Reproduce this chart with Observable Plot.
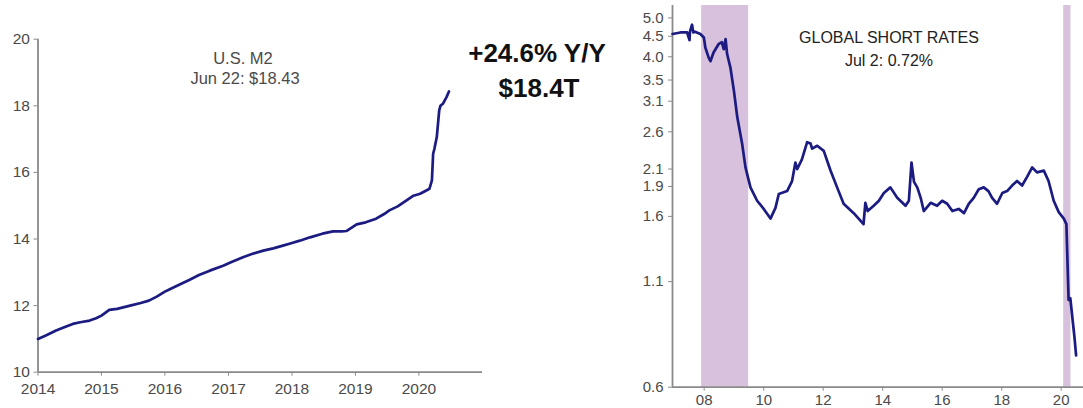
<!DOCTYPE html>
<html><head><meta charset="utf-8">
<script src="https://cdn.jsdelivr.net/npm/d3@7"></script>
<script src="https://cdn.jsdelivr.net/npm/@observablehq/plot@0.6"></script>
<style>
body{margin:0;background:#fff;font-family:"Liberation Sans",Arial,sans-serif;}
#wrap{position:relative;width:1083px;height:408px;overflow:hidden;background:#fff;}
.panel{position:absolute;top:0;}
.lbl{position:absolute;transform:translate(-50%,-50%);white-space:nowrap;text-align:center;line-height:1;}
</style></head><body><div id="wrap"></div>
<script>
// ---- Left panel: U.S. M2 ($ trillions) ----
const m2Dates = ["2014-01-01","2014-02-15","2014-04-15","2014-06-01","2014-07-20","2014-09-01","2014-10-25","2014-12-01",
"2015-01-01","2015-02-15","2015-04-01","2015-06-15","2015-08-15","2015-10-01","2015-11-15",
"2016-01-01","2016-02-01","2016-04-01","2016-05-20","2016-07-15","2016-09-15","2016-12-01",
"2017-01-15","2017-03-25","2017-05-15","2017-07-20","2017-09-15","2017-11-10",
"2018-01-01","2018-02-15","2018-04-15","2018-06-25","2018-08-25","2018-10-15","2018-11-10",
"2019-01-08","2019-03-01","2019-04-30","2019-06-15","2019-07-15","2019-09-01","2019-10-22","2019-12-01",
"2020-01-08","2020-02-10","2020-03-02","2020-03-16","2020-03-23","2020-03-30","2020-04-13","2020-04-27","2020-05-04","2020-05-18","2020-06-08","2020-06-22"];
const m2Values = [11.00,11.10,11.25,11.35,11.45,11.50,11.55,11.62,
11.70,11.87,11.90,12.00,12.08,12.15,12.27,
12.42,12.50,12.65,12.77,12.92,13.05,13.20,
13.30,13.45,13.55,13.65,13.72,13.80,
13.88,13.95,14.05,14.16,14.23,14.23,14.24,
14.44,14.50,14.61,14.75,14.86,14.98,15.16,15.30,
15.36,15.45,15.51,15.76,16.56,16.70,17.06,17.86,18.00,18.06,18.26,18.43];
const m2Years = [2014,2015,2016,2017,2018,2019,2020];
const m2YTicks = [10,12,14,16,18,20];

// ---- Right panel: Global short rates (%) ----
const rateDates = ["2006-12-08","2007-03-15","2007-06-05","2007-07-05","2007-07-10","2007-08-05","2007-08-20","2007-09-10","2007-11-15","2007-12-28",
"2008-01-15","2008-02-25","2008-03-18","2008-04-25","2008-06-25","2008-08-05","2008-08-28","2008-09-20","2008-10-08","2008-11-18",
"2009-01-01","2009-02-10","2009-04-12","2009-05-22","2009-07-22","2009-10-12",
"2010-01-01","2010-03-25","2010-05-25","2010-07-05","2010-10-15","2010-12-15",
"2011-01-25","2011-02-17","2011-04-15","2011-06-18","2011-07-30","2011-08-18","2011-10-20",
"2012-01-08","2012-04-01","2012-06-20","2012-09-08",
"2013-01-10","2013-05-10","2013-06-02","2013-07-01","2013-09-12","2013-11-15",
"2014-01-15","2014-04-05","2014-06-28","2014-10-08","2014-11-18","2014-12-20",
"2015-01-20","2015-03-01","2015-04-12","2015-05-20","2015-08-12","2015-10-30",
"2016-01-01","2016-03-03","2016-05-05","2016-07-22","2016-09-25","2016-11-22",
"2017-01-22","2017-03-25","2017-05-25","2017-07-22","2017-09-05","2017-11-05",
"2018-01-08","2018-03-08","2018-05-08","2018-07-08","2018-09-08","2018-11-10",
"2019-01-10","2019-03-10","2019-06-02","2019-07-30","2019-10-01","2019-12-02",
"2020-02-02","2020-03-05","2020-04-01","2020-04-22","2020-06-12","2020-07-02"];
const rateValues = [4.56,4.60,4.60,4.40,4.62,4.81,4.60,4.62,4.56,4.47,
4.22,3.98,3.90,4.10,4.30,4.35,4.18,4.43,4.07,3.76,
3.28,2.83,2.42,2.12,1.89,1.75,
1.67,1.58,1.68,1.82,1.85,1.96,
2.18,2.10,2.22,2.45,2.43,2.36,2.40,
2.33,2.08,1.89,1.72,
1.63,1.53,1.73,1.65,1.70,1.75,
1.83,1.89,1.78,1.70,1.75,2.18,
1.95,1.89,1.78,1.65,1.73,1.70,
1.75,1.72,1.65,1.67,1.63,1.72,
1.78,1.87,1.89,1.85,1.78,1.72,
1.83,1.85,1.91,1.96,1.91,2.01,
2.12,2.06,2.08,1.96,1.75,1.64,
1.58,1.53,0.99,1.00,0.80,0.72];
const rateYTicks = [0.6,1.1,1.6,1.9,2.1,2.6,3.1,3.5,4.0,4.5,5.0];
const rateXYears = [2008,2010,2012,2014,2016,2018,2020];
const recessionStart = ["2007-12-01","2020-02-01"];
const recessionEnd = ["2009-06-30","2020-04-30"];

const lineColor = "#1b1b82";
const axisColor = "#8a8a8a";
const textColor = "#4a4a4a";
const d = s => new Date(s + "T00:00:00Z");

const m2 = m2Dates.map((t, i) => ({date: d(t), value: m2Values[i]}));
const rates = rateDates.map((t, i) => ({date: d(t), value: rateValues[i]}));
const recessions = recessionStart.map((s, i) => ({x1: d(s), x2: d(recessionEnd[i])}));

const wrap = document.getElementById("wrap");

const m2Domain = [d("2014-01-01"), d("2021-01-01")];
const left = Plot.plot({
  width: 540, height: 408,
  marginLeft: 37.5, marginRight: 58, marginTop: 38.7, marginBottom: 36.3,
  style: {fontFamily: "Liberation Sans, Arial, sans-serif", fontSize: "15.5px", background: "transparent"},
  x: {type: "utc", domain: m2Domain},
  y: {domain: [10, 20]},
  marks: [
    Plot.ruleX([m2Domain[0]], {stroke: axisColor, strokeWidth: 1.8}),
    Plot.ruleY([10], {stroke: axisColor, strokeWidth: 1.8}),
    Plot.axisX({ticks: m2Years.map(y => d(y + "-01-01")), tickFormat: d3.utcFormat("%Y"), tickSize: 4, tickPadding: 7, stroke: axisColor, fill: textColor, fontSize: 15.5, label: null}),
    Plot.axisY({ticks: m2YTicks, tickSize: 4, tickPadding: 4, stroke: axisColor, fill: textColor, fontSize: 15.5, label: null}),
    Plot.line(m2, {x: "date", y: "value", stroke: lineColor, strokeWidth: 2.7, strokeLinejoin: "round", strokeLinecap: "round"})
  ]
});
left.classList.add("panel");
left.style.left = "0px";
wrap.appendChild(left);

const rateDomain = [d("2006-12-08"), d("2020-10-01")];
const right = Plot.plot({
  width: 453, height: 408,
  marginLeft: 42, marginRight: 0, marginTop: 5, marginBottom: 21.3,
  style: {fontFamily: "Liberation Sans, Arial, sans-serif", fontSize: "15px", background: "transparent"},
  x: {type: "utc", domain: rateDomain},
  y: {type: "log", domain: [0.6, 5.37]},
  marks: [
    Plot.rect(recessions, {x1: "x1", x2: "x2", y1: 0.6, y2: 5.37, fill: "#d8c1dc"}),
    Plot.ruleX([rateDomain[0]], {stroke: axisColor, strokeWidth: 1.8}),
    Plot.ruleY([0.6], {stroke: axisColor, strokeWidth: 1.8}),
    Plot.axisX({ticks: rateXYears.map(y => d(y + "-01-01")), tickFormat: d3.utcFormat("%y"), tickSize: 4, tickPadding: 3, stroke: axisColor, fill: textColor, fontSize: 15, label: null}),
    Plot.axisY({ticks: rateYTicks, tickFormat: d3.format(".1f"), tickSize: 4, tickPadding: 5, stroke: axisColor, fill: textColor, fontSize: 15, label: null}),
    Plot.line(rates, {x: "date", y: "value", stroke: lineColor, strokeWidth: 2.7, strokeLinejoin: "round", strokeLinecap: "round"})
  ]
});
right.classList.add("panel");
right.style.left = "630px";
wrap.appendChild(right);

function label(text, x, y, css) {
  const el = document.createElement("div");
  el.className = "lbl";
  el.textContent = text;
  el.style.left = x + "px";
  el.style.top = y + "px";
  Object.assign(el.style, css);
  wrap.appendChild(el);
}
label("U.S. M2", 243, 58, {fontSize: "16.5px", color: textColor});
label("Jun 22: $18.43", 245, 78, {fontSize: "16.5px", color: textColor});
label("+24.6% Y/Y", 537, 53, {fontSize: "26px", fontWeight: "bold", color: "#111"});
label("$18.4T", 539, 88, {fontSize: "26px", fontWeight: "bold", color: "#111"});
label("GLOBAL SHORT RATES", 889, 38, {fontSize: "16px", color: "#222"});
label("Jul 2: 0.72%", 889, 61, {fontSize: "16px", color: "#222"});
</script></body></html>
